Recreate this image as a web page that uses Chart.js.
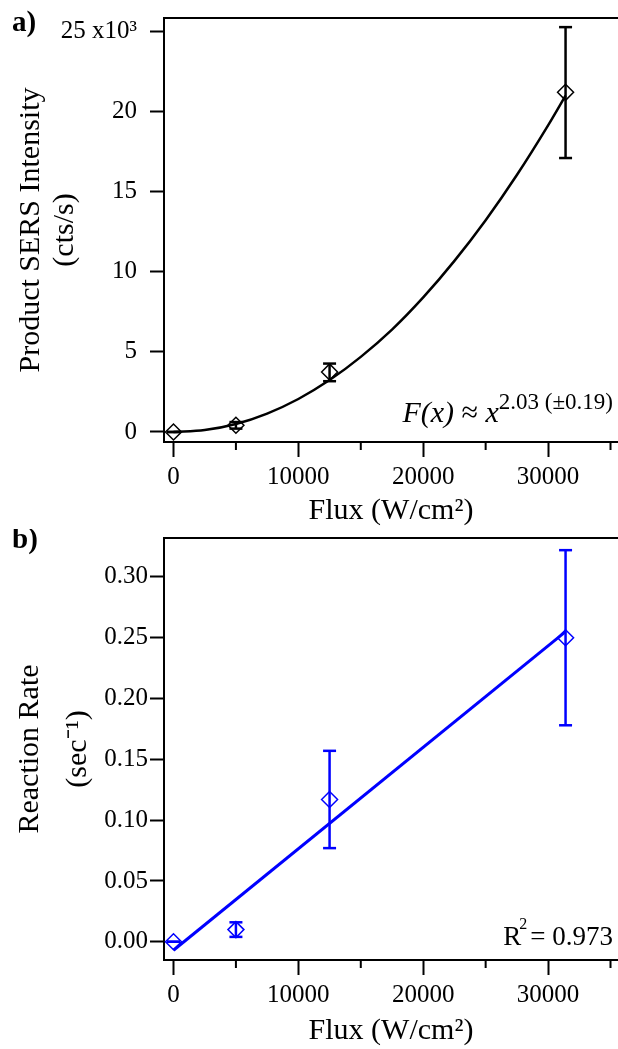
<!DOCTYPE html>
<html>
<head>
<meta charset="utf-8">
<script src="https://cdn.jsdelivr.net/npm/chart.js@4.4.1/dist/chart.umd.min.js"></script>
<style>
  body { margin: 0; background: #fff; }
  .painel { position: absolute; left: 0; width: 618px; }
</style>
</head>
<body>
<div class="painel" style="top:0;height:529px"><canvas id="graficoA"></canvas></div>
<div class="painel" style="top:529px;height:520px"><canvas id="graficoB"></canvas></div>
<script>
// ---- dados ----
const fluxVals = [0, 5000, 12500, 31400];

// a) intensidade SERS (cts/s)
const sersVals = [0, 420, 3750, 21200];
const sersErrLo = [0, 210, 3170, 17100];
const sersErrHi = [0, 620, 4270, 25270];
const sersFitFlux = [0, 2500, 5000, 7500, 10000, 12500, 15000, 17500, 20000, 22500, 25000, 27500, 30000, 31400];
const sersFitVals = [0, 120, 500, 1150, 2060, 3240, 4690, 6390, 8400, 10680, 13220, 16040, 19140, 21000];

// b) taxa de reação (1/s)
const rateVals = [0, 0.010, 0.117, 0.250];
const rateErrLo = [0, 0.004, 0.077, 0.178];
const rateErrHi = [0, 0.016, 0.157, 0.322];
const rateFitFlux = [0, 31400];
const rateFitVals = [-0.007, 0.255];

// eixos
const xTicks = [0, 10000, 20000, 30000];
const minorX = [5000, 15000, 25000, 35000];
const sersTicks = [0, 5000, 10000, 15000, 20000, 25000];
const rateTicks = [0, 0.05, 0.10, 0.15, 0.20, 0.25, 0.30];

const SERIF = '"Liberation Serif", "Times New Roman", serif';
const AZUL = '#0000ff';

function pontos(xs, ys) {
    return xs.map((x, i) => ({ x: x, y: ys[i] }));
}

function fixarTicks(lista) {
    return s => { s.ticks = lista.map(v => ({ value: v })); };
}

function barrasErro(lo, hi, cor) {
    return fluxVals.map((f, i) => ({
        data: [{ x: f, y: lo[i] }, { x: f, y: hi[i] }],
        showLine: true,
        borderColor: cor,
        borderWidth: 2.5,
        pointStyle: 'line',
        pointRadius: 6.5,
        pointBorderWidth: 2.5,
        pointBorderColor: cor
    }));
}

function eixoX(alturaEixo) {
    return {
        type: 'linear',
        min: -760,
        max: 35600,
        afterBuildTicks: fixarTicks(xTicks),
        afterFit: s => {
            s.height = alturaEixo;
            s.paddingLeft = 0;
            s.paddingRight = 0;
        },
        border: { display: true, color: '#000', width: 2 },
        grid: { drawOnChartArea: false, drawTicks: true, tickLength: 15, tickWidth: 2, tickColor: '#000' },
        ticks: {
            maxRotation: 0,
            autoSkip: false,
            padding: 5,
            color: '#000',
            font: { family: SERIF, size: 25 },
            callback: v => String(v)
        },
        title: {
            display: true,
            text: 'Flux (W/cm\u00b2)',
            color: '#000',
            font: { family: SERIF, size: 30, lineHeight: 1.2 },
            padding: { top: 0, bottom: 0 }
        }
    };
}

function larguraY(s) {
    s.width = 164;
    s.paddingTop = 0;
    s.paddingBottom = 0;
}

// moldura de cima, ticks menores, rótulos a)/b) e anotações
function moldura(rotulo, yRotulo, anotacao) {
    return {
        id: 'moldura',
        afterDraw(chart) {
            const { ctx, chartArea: a, scales } = chart;
            ctx.save();
            ctx.strokeStyle = '#000';
            ctx.lineWidth = 2;
            ctx.beginPath();
            ctx.moveTo(a.left - 1, a.top);
            ctx.lineTo(a.right, a.top);
            minorX.forEach(v => {
                const px = scales.x.getPixelForValue(v);
                ctx.moveTo(px, a.bottom);
                ctx.lineTo(px, a.bottom + 8);
            });
            ctx.stroke();

            ctx.fillStyle = '#000';
            ctx.textBaseline = 'alphabetic';
            ctx.textAlign = 'left';
            ctx.font = 'bold 29px ' + SERIF;
            ctx.fillText(rotulo, 12, yRotulo);

            anotacao(ctx, a);
            ctx.restore();
        }
    };
}

function textoAjuste(ctx, a) {
    const direita = a.right - 5;
    const base = a.bottom - 20;
    ctx.font = '23px ' + SERIF;
    const sup = '2.03 (\u00b10.19)';
    let x = direita - ctx.measureText(sup).width;
    ctx.fillText(sup, x, base - 13);
    ctx.font = 'italic 30px ' + SERIF;
    x -= ctx.measureText('x').width;
    ctx.fillText('x', x, base);
    ctx.font = '30px ' + SERIF;
    x -= ctx.measureText(' \u2248 ').width;
    ctx.fillText(' \u2248 ', x, base);
    ctx.font = 'italic 30px ' + SERIF;
    x -= ctx.measureText('F(x)').width;
    ctx.fillText('F(x)', x, base);
}

function textoR2(ctx, a) {
    const direita = a.right - 5;
    const base = a.bottom - 15;
    ctx.font = '27px ' + SERIF;
    const resto = '= 0.973';
    let x = direita - ctx.measureText(resto).width;
    ctx.fillText(resto, x, base);
    ctx.font = '16px ' + SERIF;
    ctx.fillText('2', x - 11, base - 16);
    ctx.font = '27px ' + SERIF;
    x -= 9 + ctx.measureText('R').width;
    ctx.fillText('R', x, base);
}

const comuns = {
    responsive: true,
    maintainAspectRatio: false,
    animation: false,
    events: [],
    plugins: { legend: { display: false }, tooltip: { enabled: false } }
};

/* -------------- a) intensidade ---------------- */
new Chart(document.getElementById('graficoA'), {
    type: 'scatter',
    data: {
        datasets: [
            {
                data: pontos(fluxVals, sersVals),
                pointStyle: 'rectRot',
                pointRadius: 8,
                pointBorderWidth: 1.5,
                pointBorderColor: '#000',
                pointBackgroundColor: 'rgba(0,0,0,0)'
            },
            {
                data: pontos(sersFitFlux, sersFitVals),
                showLine: true,
                borderColor: '#000',
                borderWidth: 2.5,
                pointRadius: 0,
                cubicInterpolationMode: 'monotone'
            },
            ...barrasErro(sersErrLo, sersErrHi, '#000')
        ]
    },
    options: {
        ...comuns,
        layout: { autoPadding: false, padding: { top: 18, right: 0, left: 0, bottom: 0 } },
        scales: {
            x: eixoX(87),
            y: {
                min: -625,
                max: 25840,
                afterBuildTicks: fixarTicks(sersTicks),
                afterFit: larguraY,
                border: { display: true, color: '#000', width: 2 },
                grid: { drawOnChartArea: false, drawTicks: true, tickLength: 14, tickWidth: 2, tickColor: '#000' },
                ticks: {
                    padding: 13,
                    color: '#000',
                    font: { family: SERIF, size: 25 },
                    callback: v => v === 25000 ? '25 x10\u00b3' : String(v / 1000)
                },
                title: {
                    display: true,
                    text: ['Product SERS Intensity', '(cts/s)'],
                    color: '#000',
                    font: { family: SERIF, size: 30, lineHeight: 1.13 },
                    padding: { top: 14, bottom: 0 }
                }
            }
        }
    },
    plugins: [moldura('a)', 31, textoAjuste)]
});

/* -------------- b) taxa de reação ---------------- */
new Chart(document.getElementById('graficoB'), {
    type: 'scatter',
    data: {
        datasets: [
            {
                data: pontos(fluxVals, rateVals),
                pointStyle: 'rectRot',
                pointRadius: 8,
                pointBorderWidth: 1.5,
                pointBorderColor: AZUL,
                pointBackgroundColor: 'rgba(0,0,0,0)'
            },
            {
                data: pontos(rateFitFlux, rateFitVals),
                showLine: true,
                borderColor: AZUL,
                borderWidth: 3,
                pointRadius: 0
            },
            ...barrasErro(rateErrLo, rateErrHi, AZUL)
        ]
    },
    options: {
        ...comuns,
        layout: { autoPadding: false, padding: { top: 9, right: 0, left: 0, bottom: 0 } },
        scales: {
            x: eixoX(89),
            y: {
                min: -0.015,
                max: 0.332,
                afterBuildTicks: fixarTicks(rateTicks),
                afterFit: larguraY,
                border: { display: true, color: '#000', width: 2 },
                grid: { drawOnChartArea: false, drawTicks: true, tickLength: 14, tickWidth: 2, tickColor: '#000' },
                ticks: {
                    padding: 2,
                    color: '#000',
                    font: { family: SERIF, size: 25 },
                    callback: v => v.toFixed(2)
                },
                title: {
                    display: true,
                    text: ['Reaction Rate', '(sec\u207b\u00b9)'],
                    color: '#000',
                    font: { family: SERIF, size: 30, lineHeight: 1.6 },
                    padding: { top: 6, bottom: 0 }
                }
            }
        }
    },
    plugins: [moldura('b)', 19, textoR2)]
});
</script>
</body>
</html>
